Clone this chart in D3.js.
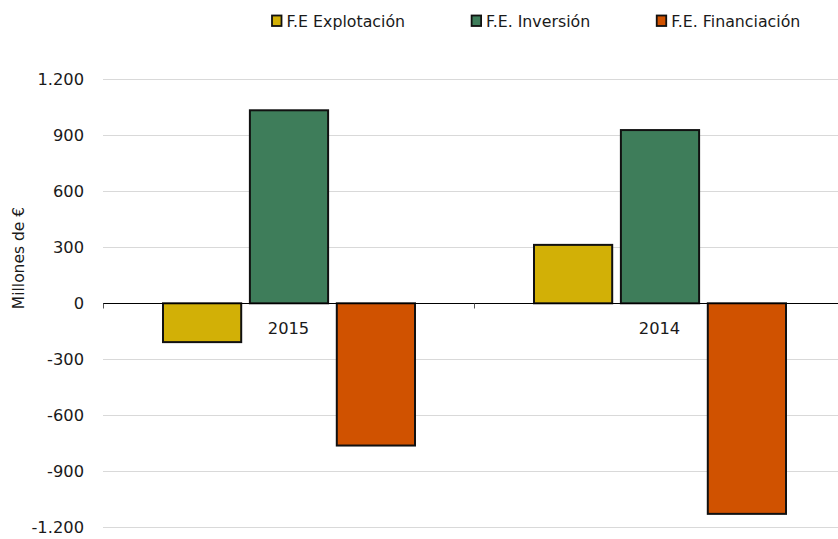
<!DOCTYPE html>
<html>
<head>
<meta charset="utf-8">
<script src="https://cdn.jsdelivr.net/npm/d3@7/dist/d3.min.js"></script>
<style>
  html, body { margin: 0; padding: 0; background: #fff; }
  svg { display: block; font-family: "DejaVu Sans", sans-serif; }
</style>
</head>
<body>
<svg id="chart" width="838" height="539"></svg>
<script>
// Cash flows by year (millions of euros)
const years = ["2015", "2014"];
const series = ["F.E Explotación", "F.E. Inversión", "F.E. Financiación"];
const explotacion = [-208, 313];
const inversion = [1034, 928];
const financiacion = [-762, -1128];
const yTicks = [-1200, -900, -600, -300, 0, 300, 600, 900, 1200];
const colors = ["#d2b006", "#3e7d5a", "#d05200"];

const seriesValues = [explotacion, inversion, financiacion];

const svg = d3.select("#chart");
const W = 838, H = 539;

const y = d3.scaleLinear().domain([-1200, 1200]).range([527.3, 79.3]);
const x0 = d3.scaleBand().domain(years).range([103, 845]).padding(0);
const x1 = d3.scaleBand().domain(series).range([60, 312]).paddingInner(0.1);

// Spanish number format: "." thousands separator, plain hyphen minus
const esLocale = d3.formatLocale({
  decimal: ",", thousands: ".", grouping: [3], currency: ["", " €"], minus: "-"
});
const fmt = esLocale.format(",");

// Gridlines
svg.append("g")
  .selectAll("line")
  .data(yTicks.filter(t => t !== 0))
  .join("line")
  .attr("x1", 103).attr("x2", W)
  .attr("y1", d => Math.round(y(d)) + 0.5).attr("y2", d => Math.round(y(d)) + 0.5)
  .attr("stroke", "#d9d9d9").attr("stroke-width", 1);

// Y tick labels
svg.append("g")
  .selectAll("text")
  .data(yTicks)
  .join("text")
  .attr("x", 84)
  .attr("y", d => y(d))
  .attr("dy", "0.36em")
  .attr("text-anchor", "end")
  .attr("font-size", "16.3px")
  .attr("fill", "#1a1a1a")
  .text(fmt);

// Y axis title
svg.append("text")
  .attr("transform", "translate(24,258) rotate(-90)")
  .attr("text-anchor", "middle")
  .attr("font-size", "15.5px")
  .attr("fill", "#1a1a1a")
  .text("Millones de €");

// Bars
const groups = svg.append("g")
  .selectAll("g")
  .data(years)
  .join("g")
  .attr("transform", d => `translate(${x0(d)},0)`);

groups.selectAll("rect")
  .data((yr, i) => series.map((s, j) => ({ s, j, v: seriesValues[j][i] })))
  .join("rect")
  .attr("x", d => x1(d.s))
  .attr("width", x1.bandwidth())
  .attr("y", d => y(Math.max(0, d.v)))
  .attr("height", d => Math.abs(y(d.v) - y(0)))
  .attr("fill", d => colors[d.j])
  .attr("stroke", "#111")
  .attr("stroke-width", 2);

// Zero axis line with category ticks
const zeroY = Math.round(y(0)) + 0.5;
svg.append("line")
  .attr("x1", 103).attr("x2", W)
  .attr("y1", zeroY).attr("y2", zeroY)
  .attr("stroke", "#000").attr("stroke-width", 1);

svg.append("g")
  .selectAll("line")
  .data(years.map(d => x0(d)).concat([x0("2014") + x0.bandwidth()]))
  .join("line")
  .attr("x1", d => Math.round(d) + 0.5).attr("x2", d => Math.round(d) + 0.5)
  .attr("y1", zeroY).attr("y2", zeroY + 5)
  .attr("stroke", "#555").attr("stroke-width", 1);

// Category labels next to the zero line
svg.append("g")
  .selectAll("text")
  .data(years)
  .join("text")
  .attr("x", d => x0(d) + x0.bandwidth() / 2)
  .attr("y", 333.5)
  .attr("text-anchor", "middle")
  .attr("font-size", "16.3px")
  .attr("fill", "#1a1a1a")
  .text(d => d);

// Legend
const legend = svg.append("g");
let lx = 271.5;
series.forEach((s, j) => {
  const g = legend.append("g").attr("transform", `translate(${lx},0)`);
  g.append("rect")
    .attr("x", 0.5).attr("y", 15.5)
    .attr("width", 9.5).attr("height", 10.5)
    .attr("fill", colors[j])
    .attr("stroke", "#111").attr("stroke-width", 1.8);
  const t = g.append("text")
    .attr("x", 15).attr("y", 26.5)
    .attr("font-size", "15.8px")
    .attr("fill", "#1a1a1a")
    .text(s);
  lx += 15 + t.node().getComputedTextLength() + 66;
});
</script>
</body>
</html>
